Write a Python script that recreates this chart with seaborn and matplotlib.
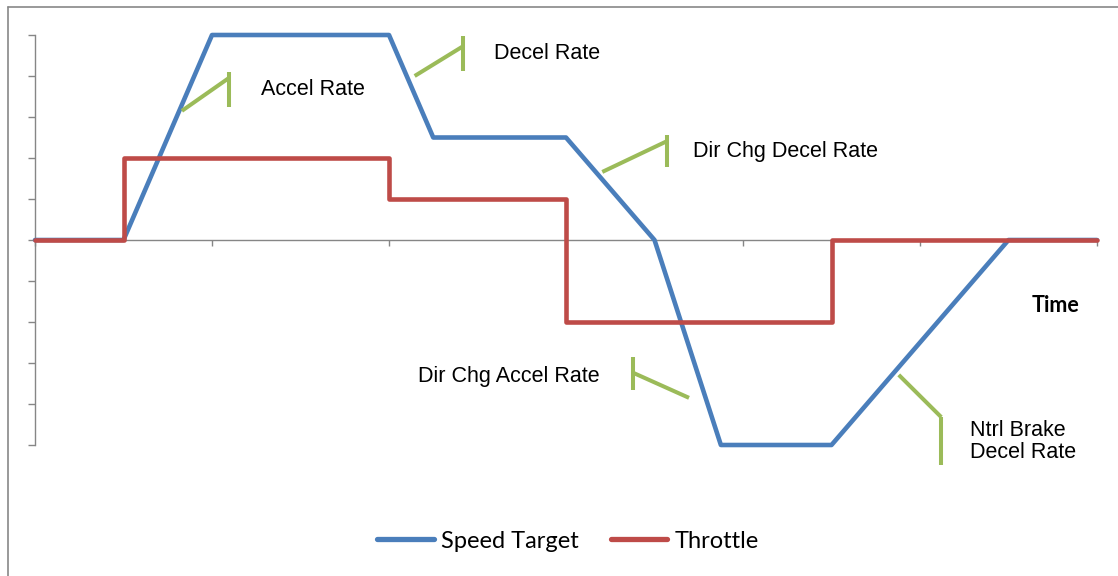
import matplotlib
matplotlib.use("Agg")
import matplotlib.pyplot as plt
from matplotlib.lines import Line2D
import pandas as pd
import seaborn as sns

# series values (time in arbitrary units, value in arbitrary units)
speed_time = [0, 1, 2, 4, 4.5, 6, 7, 7.75, 9, 11, 12]
speed_vals = [0, 0, 5, 5, 2.5, 2.5, 0, -5, -5, 0, 0]
throttle_time = [0, 1, 1, 4, 4, 6, 6, 9, 9, 12]
throttle_vals = [0, 0, 2, 2, 1, 1, -2, -2, 0, 0]

series_names = ["Speed Target", "Throttle"]
series_colors = ["#4A7EBB", "#BE4B48"]

# callout labels: text, text anchor (x, y), diagonal leader, vertical bar
callout_text = ["Accel Rate", "Decel Rate", "Dir Chg Decel Rate",
                "Dir Chg Accel Rate", "Ntrl Brake\nDecel Rate"]
callout_pos = [(2.55, 3.68), (5.19, 4.56), (7.44, 2.15), (4.33, -3.32), (10.56, -4.91)]
callout_diag = [((1.66, 2.19), (3.15, 3.95)),
                ((4.29, 4.84), (4.00, 4.73)),
                ((6.41, 7.14), (1.66, 2.41)),
                ((6.76, 7.39), (-3.24, -3.85)),
                ((9.76, 10.24), (-3.29, -4.32))]
callout_bar = [(2.19, 4.10, 3.24),
               (4.84, 4.98, 4.12),
               (7.14, 2.56, 1.78),
               (6.76, -2.85, -3.66),
               (10.24, -4.32, -5.49)]

df = pd.concat([
    pd.DataFrame({"t": speed_time, "v": speed_vals, "series": series_names[0]}),
    pd.DataFrame({"t": throttle_time, "v": throttle_vals, "series": series_names[1]}),
], ignore_index=True)

sns.set_style("white")
plt.rcParams["font.family"] = ["Liberation Sans", "DejaVu Sans"]
plt.rcParams["text.color"] = "black"

fig = plt.figure(figsize=(11.18, 5.76), dpi=100)
ax = fig.add_axes([35 / 1118, 131 / 576, 1062 / 1118, 410 / 576])

sns.lineplot(data=df, x="t", y="v", hue="series", palette=series_colors,
             estimator=None, sort=False, linewidth=3.3, ax=ax, zorder=3)
for ln in ax.get_lines():
    ln.set_solid_joinstyle("round")
    ln.set_solid_capstyle("round")
    ln.set_clip_on(False)

green = "#9BBB59"
for txt, (tx, ty), (dx, dy), (bx, b0, b1) in zip(callout_text, callout_pos, callout_diag, callout_bar):
    ax.plot(dx, dy, color=green, lw=2.9, clip_on=False, solid_capstyle="butt", zorder=4)
    ax.plot([bx, bx], [b0, b1], color=green, lw=2.9, clip_on=False, solid_capstyle="butt", zorder=4)
    ax.text(tx, ty, txt, fontsize=15.5, ha="left", va="center", linespacing=1.05, color="black")

ax.text(11.53, -1.59, "Time", fontsize=15.5, fontweight="bold", ha="center", va="center",
        family=["Lato", "DejaVu Sans"], color="black")

ax.set_xlim(0, 12)
ax.set_ylim(-5, 5)
ax.set_xticks(range(0, 13, 2))
ax.set_yticks(range(-5, 6))
ax.set_xticklabels([])
ax.set_yticklabels([])
ax.set_xlabel("")
ax.set_ylabel("")
ax.spines["top"].set_visible(False)
ax.spines["right"].set_visible(False)
ax.spines["bottom"].set_position(("data", 0))
for s in ["left", "bottom"]:
    ax.spines[s].set_color("#868686")
    ax.spines[s].set_linewidth(1.0)
ax.tick_params(axis="y", direction="out", length=5, width=1.0, color="#868686", left=True)
ax.tick_params(axis="x", direction="out", length=4, width=1.0, color="#868686", bottom=True)

handles, labels = ax.get_legend_handles_labels()
for h in handles:
    h.set_linewidth(3.8)
leg = ax.legend(handles, labels, loc="center", bbox_to_anchor=(568 / 1118, 1 - 541 / 576),
                bbox_transform=fig.transFigure, ncol=2, frameon=False, handlelength=2.4,
                handletextpad=0.3, columnspacing=1.35,
                prop={"family": ["Lato", "DejaVu Sans"], "size": 17})
for t in leg.get_texts():
    t.set_color("black")

# outer chart border (left and top edges visible)
fig.add_artist(Line2D([7.5 / 1118, 7.5 / 1118], [0, 1 - 7 / 576], color="#878787", lw=1.2))
fig.add_artist(Line2D([7.5 / 1118, 1], [1 - 7 / 576, 1 - 7 / 576], color="#878787", lw=1.2))

fig.savefig("out.png", dpi=100)
